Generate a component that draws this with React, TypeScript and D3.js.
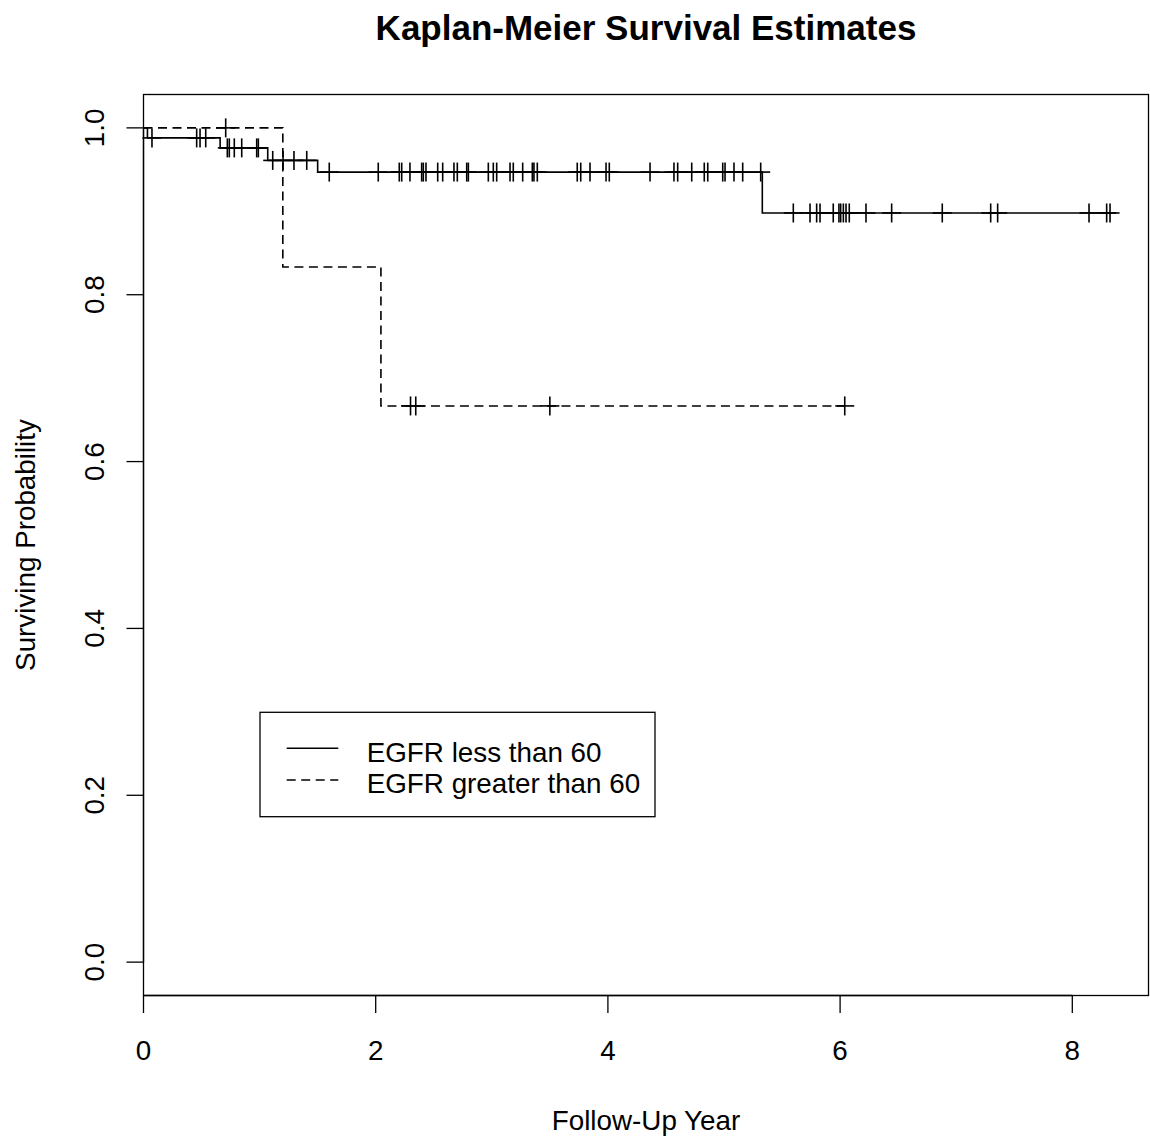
import React from "react";
import * as d3 from "d3";

const titleText = "Kaplan-Meier Survival Estimates";
const xLabel = "Follow-Up Year";
const yLabel = "Surviving Probability";
const xTicks = [0, 2, 4, 6, 8];
const yTicks = [0, 0.2, 0.4, 0.6, 0.8, 1.0];
const legendLabels = ["EGFR less than 60", "EGFR greater than 60"];

// Group 1: EGFR less than 60 (solid)
const lowEventTimes = [0.034, 0.66, 1.07, 1.5, 5.33];
const lowSurvival = [0.988, 0.976, 0.961, 0.947, 0.898];
const lowCensorTimes = [
  0.073, 0.458, 0.487, 0.536, 0.722, 0.739, 0.782, 0.846, 0.975, 0.989,
  1.113, 1.202, 1.296, 1.406, 1.6, 2.022, 2.203, 2.224, 2.295, 2.396, 2.41,
  2.433, 2.534, 2.577, 2.674, 2.703, 2.784, 2.798, 2.97, 3.013, 3.042, 3.157,
  3.185, 3.266, 3.349, 3.363, 3.392, 3.736, 3.766, 3.846, 3.984, 4.012, 4.363,
  4.569, 4.601, 4.722, 4.83, 4.86, 4.989, 5.009, 5.086, 5.161, 5.316, 5.597,
  5.741, 5.798, 5.827, 5.941, 5.99, 6.005, 6.028, 6.051, 6.079, 6.223, 6.444,
  6.88, 7.297, 7.357, 8.144, 8.296, 8.325,
];

// Group 2: EGFR greater than 60 (dashed)
const highEventTimes = [1.2, 2.045];
const highSurvival = [0.8333, 0.6667];
const highCensorTimes = [0.708, 2.3, 2.345, 3.5, 6.04];

const FONT = "'Liberation Sans', Arial, Helvetica, sans-serif";

function survAt(t: number, times: number[], surv: number[]) {
  let s = 1;
  for (let i = 0; i < times.length; i++) if (times[i] <= t) s = surv[i];
  return s;
}

export default function App() {
  const W = 1150, H = 1140;
  const left = 143.5, right = 1148.5, top = 94.5, bottom = 995.5;
  const pxPerUnit = (1072.3 - 143.5) / 8;
  const x = d3.scaleLinear().domain([0, (right - left) / pxPerUnit]).range([left, right]);
  const y = d3.scaleLinear().domain([-0.04, 1.04]).range([bottom, top]);
  const line = d3.line<[number, number]>().x(d => x(d[0])).y(d => y(d[1])).curve(d3.curveStepAfter);

  const buildPts = (times: number[], surv: number[], censor: number[]) => {
    const end = Math.max(d3.max(censor) ?? 0, d3.max(times) ?? 0);
    const pts: [number, number][] = [[0, 1]];
    times.forEach((t, i) => pts.push([t, surv[i]]));
    pts.push([end, surv[surv.length - 1]]);
    return pts;
  };
  const lowPts = buildPts(lowEventTimes, lowSurvival, lowCensorTimes);
  const highPts = buildPts(highEventTimes, highSurvival, highCensorTimes);
  const dash = "9,5.5";
  const mk = 9.5;
  const sw = 1.6;

  const marks = (censor: number[], times: number[], surv: number[], key: string) =>
    censor.map((t, i) => {
      const cx = x(t), cy = y(survAt(t, times, surv));
      return (
        <g key={key + i}>
          <line x1={cx - mk} x2={cx + mk} y1={cy} y2={cy} stroke="#000" strokeWidth={sw} />
          <line x1={cx} x2={cx} y1={cy - mk} y2={cy + mk} stroke="#000" strokeWidth={sw} />
        </g>
      );
    });

  return (
    <svg width={W} height={H} style={{ display: "block", position: "absolute", left: 0, top: 0 }} fontFamily={FONT}>
      <rect x={0} y={0} width={W} height={H} fill="#fff" />
      <text x={(left + right) / 2} y={40} textAnchor="middle" fontSize={35} fontWeight="bold">{titleText}</text>
      <rect x={left} y={top} width={right - left} height={bottom - top} fill="none" stroke="#000" strokeWidth={1.3} />
      {/* x axis */}
      <line x1={x(xTicks[0])} x2={x(xTicks[xTicks.length - 1])} y1={bottom} y2={bottom} stroke="#000" strokeWidth={1.3} />
      {xTicks.map(t => (
        <g key={"xt" + t}>
          <line x1={x(t)} x2={x(t)} y1={bottom} y2={bottom + 17.5} stroke="#000" strokeWidth={1.3} />
          <text x={x(t)} y={1060} textAnchor="middle" fontSize={27.8}>{t}</text>
        </g>
      ))}
      {/* y axis */}
      <line x1={left} x2={left} y1={y(0)} y2={y(1)} stroke="#000" strokeWidth={1.3} />
      {yTicks.map(t => (
        <g key={"yt" + t}>
          <line x1={left - 17} x2={left} y1={y(t)} y2={y(t)} stroke="#000" strokeWidth={1.3} />
          <text transform={`translate(104,${y(t)}) rotate(-90)`} textAnchor="middle" fontSize={27.8}>{t.toFixed(1)}</text>
        </g>
      ))}
      <text x={(left + right) / 2} y={1130} textAnchor="middle" fontSize={27.8}>{xLabel}</text>
      <text transform={`translate(35,${(top + bottom) / 2}) rotate(-90)`} textAnchor="middle" fontSize={27.8}>{yLabel}</text>
      {/* curves */}
      <path d={line(lowPts) ?? ""} fill="none" stroke="#000" strokeWidth={sw} />
      <path d={line(highPts) ?? ""} fill="none" stroke="#000" strokeWidth={sw} strokeDasharray={dash} />
      {marks(lowCensorTimes, lowEventTimes, lowSurvival, "l")}
      {marks(highCensorTimes, highEventTimes, highSurvival, "h")}
      {/* legend */}
      <rect x={260} y={712.3} width={395} height={104.4} fill="#fff" stroke="#000" strokeWidth={1.3} />
      <line x1={286.7} x2={338.3} y1={748.3} y2={748.3} stroke="#000" strokeWidth={sw} />
      <line x1={286.7} x2={338.3} y1={780} y2={780} stroke="#000" strokeWidth={sw} strokeDasharray={dash} />
      <text x={366.7} y={761.7} fontSize={27.8}>{legendLabels[0]}</text>
      <text x={366.7} y={792.7} fontSize={27.8}>{legendLabels[1]}</text>
    </svg>
  );
}
